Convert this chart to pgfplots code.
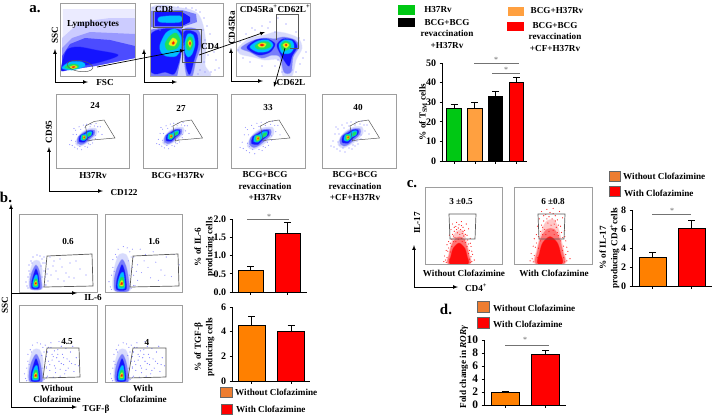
\documentclass[border=0pt]{standalone}
\usepackage{pgfplots}
\pgfplotsset{compat=1.18}
\usepackage{fontspec}
\setmainfont{Liberation Serif}
\definecolor{jblue}{RGB}{20,20,255}
\definecolor{jcyan}{RGB}{0,190,255}
\definecolor{jgreen}{RGB}{30,225,90}
\definecolor{jyellow}{RGB}{240,240,20}
\definecolor{jred}{RGB}{240,30,10}
\definecolor{halo}{RGB}{215,218,252}
\definecolor{jmid}{RGB}{120,125,250}
\definecolor{barorange}{RGB}{255,128,0}
\definecolor{legorange}{RGB}{237,125,49}
\definecolor{lightorange}{RGB}{255,160,64}
\definecolor{bargreen}{RGB}{0,200,20}
\pgfplotsset{
  lay/.style={draw=#1,draw opacity=0.45,line width=1bp,fill=#1,smooth cycle,forget plot},
  poly/.style={draw=none,fill=#1,forget plot},
  dots/.style={only marks,mark=*,mark size=0.3pt,color=#1,forget plot},
  flow/.style={scale only axis,anchor=center,y dir=reverse,ticks=none,
    axis line style={draw=black!38,line width=0.8bp},axis on top},
  barax/.style={scale only axis,anchor=south west,ymin=0,
    axis x line*=bottom,axis y line*=left,
    axis line style={line width=0.9bp},
    tick align=outside,tick style={black,line width=0.7bp},
    major tick length=2.5bp,
    xtick=data,xticklabels={},
    tick label style={font=\bfseries\fontsize{10}{10}\selectfont},
    /pgf/number format/assume math mode=true,
    ybar,ymajorgrids=false},
  onebar/.style={draw=black,line width=1bp,fill=#1,bar shift=0pt,forget plot,
    error bars/.cd,y dir=plus,y explicit,
    error bar style={black,line width=1bp},
    error mark options={rotate=90,mark size=3.5bp,black,line width=1bp}},
}
% x0,y0,x1,y1 panel in picture px; ox,oy,s origin and scale of the data
\newcommand{\flowpanel}[8]{%
  \pgfmathsetmacro{\cx}{(#1+#3)/2}\pgfmathsetmacro{\cy}{(#2+#4)/2}%
  \pgfmathsetmacro{\pw}{#3-#1}\pgfmathsetmacro{\ph}{#4-#2}%
  \pgfmathsetmacro{\xa}{(#1-#5)/#7}\pgfmathsetmacro{\xb}{(#3-#5)/#7}%
  \pgfmathsetmacro{\ya}{(#2-#6)/#7}\pgfmathsetmacro{\yb}{(#4-#6)/#7}%
  \begin{axis}[flow,at={(\cx bp,-\cy bp)},width=\pw bp,height=\ph bp,
      xmin=\xa,xmax=\xb,ymin=\ya,ymax=\yb]
    #8
  \end{axis}}
% diagonal double population, CD95/CD122 panels
\newcommand{\diagblob}{%
  \addplot[dots=blue!40] coordinates {(-16,4)(-14,-3)(-12,12)(-11,-8)(-9,14)(-7,-12)(-4,15)(-2,-14)(2,-15)(3,12)(6,9)(9,7)(12,2)(16,-6)(18,-12)(13,-16)(7,-15)(-18,9)(-15,10)(20,-3)(-6,11)(11,-13)(-11,5)(-9,8)(-5,-9)(-10,-3)(0,11)(4,8)(8,4)(12,-2)(15,-12)(6,-12)(-13,-10)(0,-11)};
  \addplot[lay=halo] coordinates {(-11,8)(-9,1)(-3,-6)(5,-10)(13,-10)(14,-4)(8,3)(1,8)(-6,11)};
  \addplot[lay=jmid] coordinates {(-9,6)(-8,0)(-2,-5)(4,-8)(11,-8)(11,-3)(6,2)(0,7)(-5,9)};
  \addplot[lay=jblue] coordinates {(-7,5)(-6,-1)(-1,-4)(4,-7)(9,-7)(9,-3)(4,1)(-1,6)(-4,6)};
  \addplot[lay=jcyan] coordinates {(-5,3)(-4,-2)(0,-3)(4,-6)(8,-6)(7,-2)(3,0)(-1,4)(-3,4)};
  \addplot[lay=jgreen] coordinates {(-3,3)(-3,-2)(-1,-2)(1,-1)(1,2)(-1,3)};
  \addplot[lay=jgreen] coordinates {(4,-1)(4,-4)(7,-5)(7,-3)};
  \addplot[lay=jyellow] coordinates {(-2,2)(-2,-1)(0,-1)(0,1)(-1,2)};
  \addplot[lay=jred] coordinates {(-1.5,1)(-1,-.5)(-.2,0)(-.8,1.2)};
}
% tall population, SSC against IL-6 or TGF-beta
\newcommand{\tallblob}{%
  \addplot[dots=blue!45] coordinates {(-9,3)(-8,-6)(-7,-12)(-7,-18)(-5,-22)(-3,-26)(1,-28)(4,-27)(7,-20)(8,-12)(9,-6)(9,2)(-10,-1)(-8,5)(6,-24)(-4,-20)(5,-17)(-6,-9)(6,-6)(7,4)};
  \addplot[lay=halo] coordinates {(-6,6)(-7,-4)(-5,-15)(-2,-22)(3,-22)(6,-14)(6,-2)(6,6)};
  \addplot[lay=jmid] coordinates {(-5,6)(-6,-2)(-4,-11)(0,-18)(3,-13)(5,-3)(5,6)};
  \addplot[lay=jblue] coordinates {(-4,5)(-4,-2)(-2,-9)(0,-14)(2,-9)(3,-2)(3,5)};
  \addplot[lay=jcyan] coordinates {(-3,4)(-3,-1)(-1,-7)(1,-8)(2,-1)(2,4)};
  \addplot[lay=jgreen] coordinates {(-2,3)(-2,0)(-1,-4)(1,-4)(1.5,0)(1.5,3)};
  \addplot[lay=jyellow] coordinates {(-1.5,2)(-1.5,0)(0,-2)(.8,0)(.8,2)};
  \addplot[lay=jred] coordinates {(-1,1.2)(-.8,0)(0,-.6)(.5,0)(.3,1.2)};
}
\newcommand{\sparseil}{%
  \addplot[dots=blue!40] coordinates {(9,-20)(12,-14)(15,-8)(18,-22)(22,-4)(26,-16)(30,-10)(34,-20)(12,-2)(20,-12)(38,-5)(44,-14)(50,-8)(8,-26)(14,-26)(28,-2)(40,-22)(10,2)(17,-17)(24,-24)(33,-6)(11,-9)};
}
\newcommand{\sparsetgf}{%
  \addplot[dots=blue!50] coordinates {(8,-26)(10,-20)(11,-12)(12,-4)(13,-24)(15,-16)(16,-8)(17,-2)(19,-22)(20,-12)(21,-5)(23,-18)(24,-9)(25,-1)(27,-14)(28,-6)(30,-20)(31,-10)(33,-3)(35,-15)(37,-8)(9,-7)(14,-18)(18,-15)(22,-25)(26,-23)(32,-25)(9,-16)(10,1)(15,2)(21,1)(12,-9)(14,-13)(17,-6)(19,-18)(22,-10)(24,-15)(26,-4)(29,-12)(34,-9)(13,-28)(20,-29)(11,-24)(16,-21)};
}
% red dot cloud of panel c, data from the base line upward
\newcommand{\redcloud}{%
  \addplot[dots=red!85] coordinates {(-8,-50)(-4,-47)(0,-49)(5,-46)(9,-50)(-10,-43)(-6,-41)(2,-43)(7,-42)(12,-44)(-12,-36)(-7,-35)(-2,-39)(4,-38)(10,-36)(14,-32)(-15,-24)(-13,-28)(15,-22)(17,-12)(-18,-10)(-19,-3)(19,-5)(-3,-52)(3,-53)(6,-35)(-9,-31)(11,-30)(-16,-17)(16,-16)(-11,-26)(-14,-16)(-15,-8)(-16,-2)(14,-2)(15,-9)(13,-17)(12,-25)(-8,-37)(-5,-33)(-1,-31)(3,-32)(7,-30)(-3,-43)(1,-37)(5,-41)(-6,-46)(8,-37)(-13,-20)(14,-26)(-17,-5)(16,-3)(-12,-6)(13,-6)(-11,-15)(12,-13)(-9,-22)(10,-22)(-4,-28)(4,-28)(-1,-45)(3,-48)(-7,-28)(8,-27)};
  \addplot[lay=red!22] coordinates {(-14,0)(-13,-12)(-9,-28)(-4,-40)(4,-42)(9,-30)(13,-12)(14,0)};
  \addplot[lay=red!55] coordinates {(-13,0)(-12,-12)(-9,-24)(-3,-33)(4,-33)(9,-24)(12,-12)(13,0)};
  \addplot[lay=red!95] coordinates {(-11,0)(-10,-10)(-7,-20)(0,-26)(7,-20)(10,-10)(11,0)};
}
\begin{document}
\begin{tikzpicture}[x=1bp,y=-1bp,
    txt/.style={font=\bfseries\fontsize{9.2}{11.5}\selectfont,align=center,inner sep=0pt},
    big/.style={font=\bfseries\fontsize{15}{15}\selectfont,inner sep=0pt},
    star/.style={font=\fontsize{8}{8}\selectfont,text=black!60,inner sep=0pt},
    ax/.style={line width=0.7bp,-latex},
    gate/.style={draw=black!65,line width=0.5bp},
    sig/.style={draw=black!55,line width=0.5bp},
    sw/.style={draw=black!60,line width=0.6bp,fill=#1}]
\path[use as bounding box] (0,0) rectangle (712,415);

% --- a. gating panels
\flowpanel{60}{3}{135}{76}{0}{0}{1}{
  \addplot[poly=blue!8] coordinates {(63,9)(135,9)(135,58)(95,66)(62,71)} --cycle;
  \addplot[poly=blue!20] coordinates {(62,38)(80,22)(110,18)(135,18)(135,58)(95,66)(62,71)} --cycle;
  \addplot[poly=blue!40] coordinates {(62,48)(72,38)(90,32)(135,34)(135,58)(95,66)(62,71)} --cycle;
  \addplot[poly=blue!70] coordinates {(62,56)(70,44)(85,38)(110,40)(135,46)(135,58)(95,66)(62,71)} --cycle;
  \addplot[lay=jblue] coordinates {(62,64)(67,50)(78,47)(95,50)(118,55)(100,62)(75,67)(62,71)};
  \addplot[lay=jcyan] coordinates {(62,68)(70,62)(82,62)(85,66)(72,70)};
  \addplot[lay=jgreen] coordinates {(65,67)(72,64)(78,65)(78,68)(70,69)};
  \addplot[lay=jyellow] coordinates {(70,67)(74,65.5)(77,67)(73,68.5)};
  \addplot[lay=jred] coordinates {(72,67)(74,66.3)(75,67)(73,67.8)};
}
\flowpanel{150}{3}{223}{76}{0}{0}{1}{
  \addplot[dots=blue!45] coordinates {(200,12)(204,18)(207,26)(210,34)(212,44)(214,52)(216,60)(219,68)(205,40)(208,55)(204,62)(211,72)(200,70)(205,72)(196,10)(192,8)(186,8)(178,7)(170,8)(160,8)(153,8)(203,30)(215,70)(198,74)(160,30)};
  \addplot[lay=halo] coordinates {(149,10)(182,8)(197,13)(203,25)(206,45)(205,65)(208,77)(149,77)};
  \addplot[poly=jmid] coordinates {(150,11)(182,10)(196,14)(197,22)(182,27)(150,27)} --cycle;
  \addplot[poly=jblue] coordinates {(155,12)(182,12)(190,17)(190,22)(182,26)(155,26)} --cycle;
  \addplot[poly=jmid] coordinates {(149,30)(165,27)(182,28)(182,50)(180,62)(177,77)(149,77)} --cycle;
  \addplot[lay=jmid] coordinates {(183,30)(198,30)(201,45)(196,60)(192,77)(187,77)(184,58)};
  \addplot[lay=jblue] coordinates {(150,36)(163,29)(181,31)(181,50)(179,62)(174,74)(165,72)(155,74)(150,68)};
  \addplot[lay=jblue] coordinates {(184,32)(196,33)(198,45)(194,60)(190,74)(187,70)(185,56)};
  \addplot[lay=jcyan] coordinates {(160,45)(166,33)(175,29)(181,36)(181,48)(176,56)(166,56)(161,52)};
  \addplot[lay=jcyan] coordinates {(185,42)(188,34)(193,35)(195,44)(192,54)(188,57)(185,52)};
  \addplot[lay=jcyan] coordinates {(160,17)(180,16)(180,22)(160,22)};
  \addplot[lay=jgreen] coordinates {(165,44)(170,36)(176,33)(180,40)(177,48)(168,50)};
  \addplot[lay=jgreen] coordinates {(186,43)(189,37)(192,38)(193,45)(190,50)(187,49)};
  \addplot[lay=jyellow] coordinates {(169,44)(173,38)(177,41)(174,46)};
  \addplot[lay=jyellow] coordinates {(188,43)(190,40)(191.5,43)(190,47)};
  \addplot[lay=jred] coordinates {(172,43)(173.5,41.5)(174.5,43)(173,44.5)};
  \addplot[lay=jred] coordinates {(189.3,43)(190,42)(190.7,43)(190,45)};
}
\flowpanel{236}{3}{310}{76}{0}{0}{1}{
  \addplot[dots=blue!45] coordinates {(240,42)(246,34)(255,30)(262,26)(270,22)(278,18)(286,24)(296,32)(304,40)(306,52)(300,64)(296,72)(275,66)(262,66)(250,62)(243,58)(282,72)(292,70)(238,50)(252,28)(268,28)(275,32)(299,38)(303,58)(278,60)};
  \addplot[lay=halo] coordinates {(238,48)(250,38)(265,35)(275,32)(285,33)(298,38)(302,48)(296,60)(292,76)(283,76)(279,60)(265,60)(253,57)(240,54)};
  \addplot[lay=jmid] coordinates {(241,48)(252,41)(265,38)(275,39)(283,37)(295,40)(299,47)(293,57)(291,72)(284,72)(280,57)(272,55)(262,58)(250,52)};
  \addplot[lay=jblue] coordinates {(247,47)(256,40)(267,39)(275,44)(270,52)(260,55)(252,52)};
  \addplot[lay=jblue] coordinates {(277,45)(283,39)(293,40)(297,47)(292,56)(289,66)(284,60)(280,53)};
  \addplot[lay=jcyan] coordinates {(250,47)(258,41)(268,40)(273,45)(268,51)(258,52)};
  \addplot[lay=jcyan] coordinates {(279,45)(284,40)(292,41)(294,47)(290,53)(282,53)};
  \addplot[lay=jgreen] coordinates {(255,46)(261,42)(268,42)(271,46)(265,49)(258,49)};
  \addplot[lay=jgreen] coordinates {(281,45)(285,41)(290,43)(291,47)(287,50)(283,50)};
  \addplot[lay=jyellow] coordinates {(258,45)(262,43)(266,44)(264,47)(260,47)};
  \addplot[lay=jyellow] coordinates {(283,45)(286,43)(289,45)(286,48)};
  \addplot[lay=jred] coordinates {(260,45)(262,44)(264,45)(262,46)};
  \addplot[lay=jred] coordinates {(285,45)(286,44)(287,45)(286,46)};
}
% --- a. CD95/CD122 row
\flowpanel{56}{94}{129}{168}{85}{137}{0.85}{\diagblob}
\flowpanel{143}{94}{217}{168}{172}{136}{0.85}{\diagblob}
\flowpanel{231}{94}{305}{168}{259}{138}{1.05}{\diagblob}
\flowpanel{322}{94}{396}{168}{349}{137}{1}{\diagblob}

% --- b. panels
\flowpanel{19}{214}{97}{292}{36}{283}{1}{\sparseil\tallblob}
\flowpanel{105}{214}{182}{292}{122}{283}{1.3}{\sparseil\tallblob}
\flowpanel{19}{305}{97}{382}{36}{375}{1.15}{\sparsetgf\tallblob}
\flowpanel{105}{305}{182}{382}{122}{375}{1.15}{\sparsetgf\tallblob}

% --- c. panels
\flowpanel{425}{187}{502}{264}{459}{264}{0.8}{\redcloud}
\flowpanel{514}{187}{592}{264}{550}{264}{1.05}{\redcloud}

% --- bar charts
\begin{axis}[barax,at={(442bp,-161bp)},width=85bp,height=98bp,
    xmin=-0.576,xmax=3.5,ymax=50,ytick={0,10,20,30,40,50},bar width=14.5bp]
  \addplot[onebar=bargreen] coordinates {(0,27) +- (0,2)};
  \addplot[onebar=lightorange] coordinates {(1,27) +- (0,3)};
  \addplot[onebar=black] coordinates {(2,33) +- (0,2.5)};
  \addplot[onebar=red] coordinates {(3,40) +- (0,2.5)};
\end{axis}
\begin{axis}[barax,at={(232bp,-292bp)},width=75bp,height=73bp,
    xmin=-0.5,xmax=1.527,ymax=2,ytick={0,0.5,1,1.5,2},bar width=25bp,
    yticklabel style={/pgf/number format/fixed,/pgf/number format/fixed zerofill,/pgf/number format/precision=1}]
  \addplot[onebar=barorange] coordinates {(0,0.6) +- (0,0.1)};
  \addplot[onebar=red] coordinates {(1,1.6) +- (0,0.3)};
\end{axis}
\begin{axis}[barax,at={(232bp,-381bp)},width=78bp,height=74bp,
    xmin=-0.494,xmax=1.48,ymax=6,ytick={0,2,4,6},bar width=27bp]
  \addplot[onebar=barorange] coordinates {(0,4.5) +- (0,0.7)};
  \addplot[onebar=red] coordinates {(1,4) +- (0,0.5)};
\end{axis}
\begin{axis}[barax,at={(632bp,-286bp)},width=80bp,height=76bp,
    xmin=-0.526,xmax=1.526,ymax=8,ytick={0,2,4,6,8},bar width=27bp]
  \addplot[onebar=barorange] coordinates {(0,3) +- (0,0.5)};
  \addplot[onebar=red] coordinates {(1,6.1) +- (0,0.8)};
\end{axis}
\begin{axis}[barax,at={(484bp,-405bp)},width=82bp,height=65bp,
    xmin=-0.519,xmax=1.506,ymax=10,ytick={0,2,4,6,8,10},bar width=28bp,
    tick label style={font=\bfseries\fontsize{11.5}{11.5}\selectfont}]
  \addplot[onebar=barorange] coordinates {(0,1.85) +- (0,0.2)};
  \addplot[onebar=red] coordinates {(1,7.8) +- (0,0.6)};
\end{axis}

% --- gates
\draw[gate,rotate around={-8:(80,66)}] (80,66) ellipse [x radius=13,y radius=5.5];
\draw[gate] (153,11) rectangle (182,27);
\draw[gate] (182,29) rectangle (201,62);
\draw[gate] (276,40) -- (276,14) -- (298,14) -- (298,48) -- (290,48);
\foreach \dx in {0,87.5,175,264.5}
  \draw[gate,xshift=\dx bp] (85.5,126) -- (94,121.5) -- (104,120) -- (115,138) -- (92,140) -- (88,141) -- cycle (85.5,126) -- (88,141);
\draw[gate,line width=0.7bp] (47,256) -- (92,254) -- (93,286) -- (44,287) -- cycle;
\draw[gate,line width=0.7bp] (133,256) -- (178,254) -- (179,286) -- (130,287) -- cycle;
\draw[gate,line width=0.7bp] (47,348) -- (79,348) -- (80,377) -- (43,378) -- cycle;
\draw[gate,line width=0.7bp] (133,348) -- (166,348) -- (166,377) -- (128,378) -- cycle;
\draw[gate,line width=0.7bp] (449,214) -- (476,214) -- (475,239) -- (450,239) -- cycle;
\draw[gate,line width=0.7bp] (538,214) -- (565,214) -- (564,239) -- (539,239) -- cycle;

% --- arrows
\draw[ax,latex-latex] (55,49) -- (55,82) -- (88,82);
\draw[ax,latex-latex] (144,49) -- (144,82) -- (177,82);
\draw[ax,latex-latex] (231,48) -- (231,81) -- (263,81);
\draw[ax] (97,67) -- (185,50);
\draw[ax] (199,55) -- (265,32);
\draw[ax] (285,48) -- (274,87);
\draw[ax,latex-latex] (49,147) -- (49,191) -- (103,191);
\draw[ax,latex-latex] (11,204) -- (11,407) -- (77,407);
\draw[ax] (11,293) -- (77,293);
\draw[ax,latex-latex] (414,245) -- (414,287) -- (458,287);

% --- panel letters
\node[big] at (35,9) {a.};
\node[big] at (6,197) {b.};
\node[big] at (412,184) {c.};
\node[big] at (446,309) {d.};

% --- a. text
\node[txt] at (93,24) {Lymphocytes};
\node[txt] at (164,9) {CD8};
\node[txt] at (210,47) {CD4};
\node[txt] at (275,9) {CD45Ra\textsuperscript{+}CD62L\textsuperscript{+}};
\node[txt,rotate=90] at (55,35) {SSC};
\node[txt,rotate=90] at (232,28) {CD45Ra};
\node[txt] at (105,83) {FSC};
\node[txt] at (291,83) {CD62L};
\node[txt] at (95,105) {24};
\node[txt] at (181,108) {27};
\node[txt] at (268,108) {33};
\node[txt] at (358,107) {40};
\node[txt,rotate=90] at (49,132) {CD95};
\node[txt] at (124,193) {CD122};
\node[txt] at (93,176) {H37Rv};
\node[txt] at (178,176) {BCG+H37Rv};
\node[txt,anchor=north] at (265,171.5) {BCG+BCG\\revaccination\\+H37Rv};
\node[txt,anchor=north] at (355,171.5) {BCG+BCG\\revaccination\\+CF+H37Rv};
% --- a. legend
\fill[bargreen] (398,5) rectangle (415,15);
\fill[black] (398,18) rectangle (415,27);
\fill[lightorange] (508,7) rectangle (524,16);
\fill[red] (507,22) rectangle (524,31);
\node[txt] at (438,10) {H37Rv};
\node[txt,anchor=north] at (447,19) {BCG+BCG\\revaccination\\+H37Rv};
\node[txt] at (557,11) {BCG+H37Rv};
\node[txt,anchor=north] at (555,22) {BCG+BCG\\revaccination\\+CF+H37Rv};
\node[txt,rotate=90] at (423,112) {\% of T\textsubscript{SM} cells};
\draw[sig] (474,63) -- (519,63);
\draw[sig] (492,73) -- (520,73);
\node[star] at (496,60) {*};
\node[star] at (506,70) {*};

% --- b. text
\node[txt] at (68,242) {0.6};
\node[txt] at (154,242) {1.6};
\node[txt] at (67,342) {4.5};
\node[txt] at (147,342) {4};
\node[txt] at (93,298) {IL-6};
\node[txt] at (96,409) {TGF-β};
\node[txt,rotate=90] at (5,305) {SSC};
\node[txt] at (57,394) {Without\\Clofazimine};
\node[txt] at (143,394) {With\\Clofazimine};
\node[txt,rotate=90] at (204.5,247) {\% of IL-6\\producing cells};
\node[txt,rotate=90] at (204.5,347) {\% of  TGF-β\\producing cells};
\draw[sig] (247,219) -- (289,219);
\node[star] at (269,217) {*};
\draw[sw=legorange] (220,387) rectangle (232,397);
\draw[sw=red] (221,404) rectangle (232,414);
\node[txt,anchor=west] at (235,392) {Without Clofazimine};
\node[txt,anchor=west] at (236,409) {With Clofazimine};

% --- c. text
\node[txt] at (461,202) {3 ±0.5};
\node[txt] at (553,202) {6 ±0.8};
\node[txt] at (464,273) {Without Clofazimine};
\node[txt] at (554,273) {With Clofazimine};
\node[txt] at (476,288) {CD4\textsuperscript{+}};
\node[txt,rotate=90] at (417,223) {IL-17};
\draw[sw=legorange] (609,171) rectangle (620,181);
\draw[sw=red] (609,186) rectangle (620,196);
\node[txt,anchor=west] at (623,176) {Without Clofazimine};
\node[txt,anchor=west] at (624,193) {With Clofazimine};
\node[txt,rotate=90] at (609.5,248) {\% of IL-17\\producing CD4\textsuperscript{+}cells};
\draw[sig] (652,214) -- (691,214);
\node[star] at (672,211) {*};

% --- d. text
\draw[sw=legorange] (477,301) rectangle (489,312);
\draw[sw=red] (477,317) rectangle (489,328);
\node[txt,anchor=west] at (493,308) {Without Clofazimine};
\node[txt,anchor=west] at (493,324) {With Clofazimine};
\node[txt,rotate=90] at (464,367) {Fold change in \textit{RORγ}};
\draw[sig] (505,345) -- (549,345);
\node[star] at (525,340) {*};
\end{tikzpicture}
\end{document}
